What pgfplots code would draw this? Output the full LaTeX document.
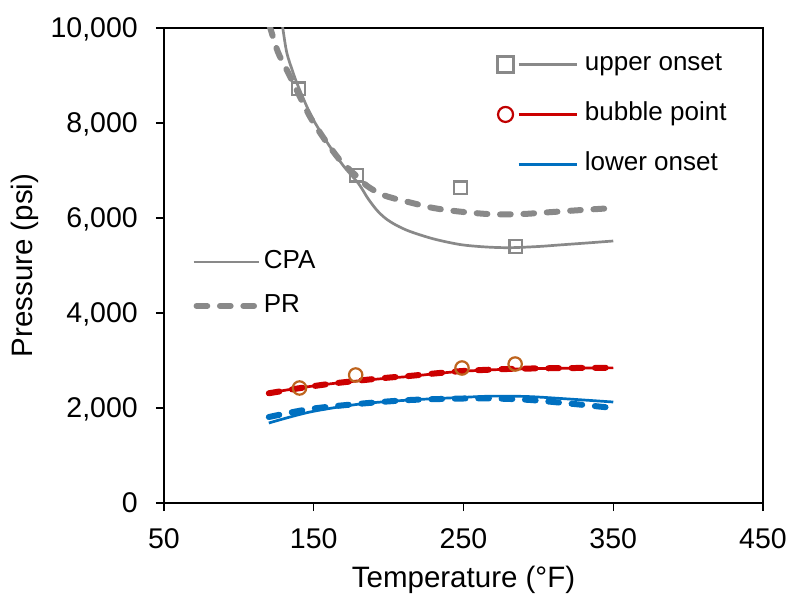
\documentclass[border=0pt]{standalone}
\usepackage{fontspec}
\setmainfont{Liberation Sans}
\usepackage{pgfplots}
\pgfplotsset{compat=1.18}
\definecolor{cgray}{RGB}{137,137,137}
\definecolor{cred}{RGB}{204,0,0}
\definecolor{cblue}{RGB}{0,112,192}
\definecolor{corange}{RGB}{190,100,30}
\definecolor{cmark}{RGB}{192,0,0}
\tikzset{
  dashedline/.style={line width=6bp, line cap=round, dash pattern=on 10.7bp off 12.7bp},
  solidline/.style={line width=2.7bp},
}
\begin{document}
\begin{tikzpicture}
\begin{axis}[
  at={(0,0)}, anchor=south west,
  scale only axis, width=599bp, height=475bp,
  xmin=50, xmax=450, ymin=0, ymax=10000,
  xtick={50,150,250,350,450}, ytick={0,2000,4000,6000,8000,10000},
  scaled y ticks=false,
  tick align=outside, major tick length=8bp,
  axis line style={line width=1.5bp, black},
  every tick/.style={line width=1.5bp, black},
  xtick pos=bottom, ytick pos=left,
  /pgf/number format/assume math mode=true,
  /pgf/number format/1000 sep={,},
  tick label style={font=\fontsize{28.5bp}{34bp}\selectfont, inner sep=0pt, text depth=0pt},
  xticklabel style={anchor=center, yshift=-28bp},
  yticklabel style={anchor=east, xshift=-18bp},
  every axis x label/.style={at={(axis description cs:0.5,0)}, yshift=-77bp, anchor=center,
    font=\fontsize{29.5bp}{35bp}\selectfont},
  every axis y label/.style={at={(axis description cs:0,0.5)}, xshift=-139bp, rotate=90, anchor=center,
    font=\fontsize{29.5bp}{35bp}\selectfont},
  xlabel={Temperature (°F)},
  ylabel={Pressure (psi)},
  legend style={at={(axis cs:272.6,9500)}, anchor=north west, draw=none, fill=none,
    font=\fontsize{26bp}{31bp}\selectfont, row sep=25bp, column sep=7bp, inner sep=0pt,
    nodes={inner sep=0pt, text height=19bp, text depth=6bp}},
  legend cell align=left,
]
% legend images
\addlegendimage{legend image code/.code={
  \draw[cgray, line width=2.7bp] (22bp,0bp) -- (80bp,0bp);
  \draw[cgray, line width=2.2bp, mark=square, mark size=8bp, only marks] plot coordinates {(9bp,0bp)};
}}
\addlegendentry{upper onset}
\addlegendimage{legend image code/.code={
  \draw[cred, line width=2.7bp] (22bp,0bp) -- (80bp,0bp);
  \draw[cmark, line width=2.2bp, mark=o, mark size=7.5bp, only marks] plot coordinates {(9bp,0bp)};
}}
\addlegendentry{bubble point}
\addlegendimage{legend image code/.code={
  \draw[cblue, line width=2.7bp] (22bp,0bp) -- (80bp,0bp);
}}
\addlegendentry{lower onset}

% upper onset PR (dashed)
\addplot[cgray, dashedline, smooth, forget plot] coordinates {
(120.5,10050) (126,9500) (132,9116) (137.5,8765) (147.5,8133) (158,7620) (168,7200)
(178.7,6880) (185.4,6680) (195,6500) (205,6400) (214,6330) (230,6210) (248,6133)
(270,6077) (290,6085) (303,6112) (325,6160) (350,6210)};
% upper onset CPA (solid)
\addplot[cgray, solidline, smooth, forget plot] coordinates {
(128.5,10150) (129.3,10000) (132,9480) (136,9080) (139.7,8765) (148.6,8133) (160,7540)
(170,7090) (180,6720) (186,6420) (192,6170) (198,5990) (205,5850) (214,5720) (230,5560)
(248,5440) (265,5390) (281,5375) (300,5400) (314,5432) (335,5480) (350,5516)};
% bubble point CPA and PR
\addplot[cred, solidline, smooth, forget plot] coordinates {
(120,2316) (140,2420) (160,2505) (181,2575) (200,2630) (214,2665) (235,2735)
(250,2775) (270,2805) (284,2820) (310,2835) (350,2845)};
\addplot[cred, dashedline, smooth, forget plot] coordinates {
(120,2310) (140,2415) (160,2505) (181,2580) (200,2640) (214,2675) (235,2740)
(250,2780) (270,2810) (284,2825) (310,2838) (350,2848)};
% lower onset CPA and PR
\addplot[cblue, solidline, smooth, forget plot] coordinates {
(120,1684) (147.5,1916) (181,2084) (214,2168) (250,2225) (270,2250) (294,2240)
(320,2190) (350,2126)};
\addplot[cblue, dashedline, smooth, forget plot] coordinates {
(120,1810) (147.5,1979) (181,2090) (214,2168) (250,2200) (270,2200) (294,2170)
(324,2084) (350,2000)};
% measured data
\addplot[cgray, only marks, mark=square, mark size=6.4bp, line width=2.2bp, forget plot] coordinates {
(140,8716) (178.5,6905) (248,6632) (285,5400)};
\addplot[corange, only marks, mark=o, mark size=6.7bp, line width=2.2bp, forget plot] coordinates {
(140.5,2421) (178,2695) (249,2842) (284.5,2926)};
\end{axis}
\begin{axis}[
  at={(0,0)}, anchor=south west,
  scale only axis, width=599bp, height=475bp,
  xmin=50, xmax=450, ymin=0, ymax=10000,
  hide axis,
  legend style={at={(axis cs:68.7,5341)}, anchor=north west, draw=none, fill=none,
    font=\fontsize{26bp}{31bp}\selectfont, row sep=19bp, column sep=4bp, inner sep=0pt,
    nodes={inner sep=0pt, text height=19bp, text depth=6bp}},
  legend cell align=left,
]
\addlegendimage{legend image code/.code={
  \draw[cgray, line width=2.7bp] (0bp,0bp) -- (65bp,0bp);
}}
\addlegendentry{CPA}
\addlegendimage{legend image code/.code={
  \draw[cgray, line width=6bp, line cap=round, dash pattern=on 10.7bp off 12.7bp] (3bp,0bp) -- (62bp,0bp);
}}
\addlegendentry{PR}
\end{axis}
\pgfresetboundingbox
\path (-164bp,-93bp) rectangle (627bp,503bp);
\end{tikzpicture}
\end{document}
